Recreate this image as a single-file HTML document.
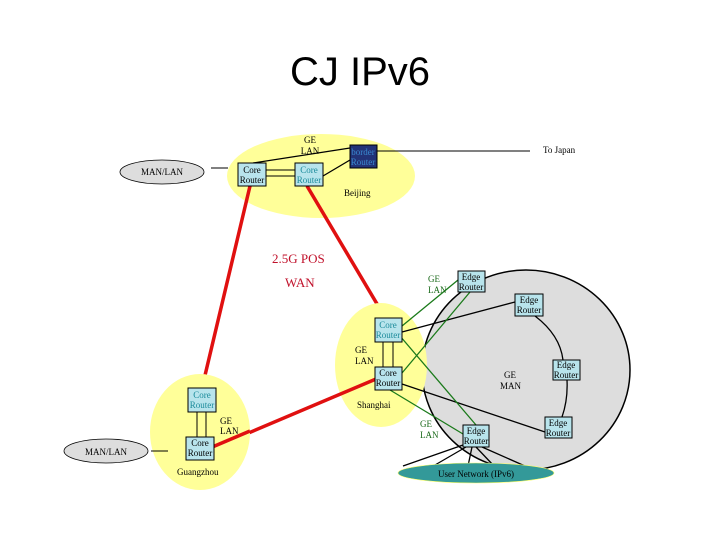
<!DOCTYPE html>
<html><head><meta charset="utf-8"><style>
body{margin:0;background:#fff}
svg text{font-family:"Liberation Serif",serif;font-size:9px}
</style></head><body>
<svg width="720" height="540" viewBox="0 0 720 540" xmlns="http://www.w3.org/2000/svg">
<text x="360" y="85" text-anchor="middle" style="font-family:'Liberation Sans',sans-serif;font-size:40px">CJ IPv6</text>
<!-- Beijing -->
<ellipse cx="321" cy="176" rx="94" ry="42" fill="#ffff99"/>
<ellipse cx="162" cy="172" rx="42" ry="12" fill="#ddd" stroke="#000" stroke-width="0.8"/>
<text x="162" y="175" text-anchor="middle">MAN/LAN</text>
<line x1="211" y1="168" x2="228" y2="168" stroke="#000"/>
<line x1="253" y1="163" x2="350" y2="148" stroke="#000" stroke-width="1.3"/>
<line x1="266" y1="170" x2="295" y2="170" stroke="#000"/>
<line x1="266" y1="176" x2="295" y2="176" stroke="#000"/>
<line x1="323" y1="176" x2="350" y2="160" stroke="#000" stroke-width="1.3"/>
<line x1="377" y1="151" x2="530" y2="151" stroke="#000"/>
<text x="543" y="153">To Japan</text>
<text x="310" y="143" text-anchor="middle">GE</text>
<text x="310" y="154" text-anchor="middle">LAN</text>
<text x="344" y="196">Beijing</text>
<!-- red WAN -->
<line x1="250" y1="186" x2="202" y2="388" stroke="#e01010" stroke-width="3.5"/>
<line x1="307" y1="186" x2="386" y2="319" stroke="#e01010" stroke-width="3.5"/>
<text x="272" y="263" fill="#c0102a" style="font-size:13px">2.5G POS</text>
<text x="285" y="287" fill="#c0102a" style="font-size:13px">WAN</text>
<!-- GE MAN -->
<ellipse cx="526" cy="370" rx="104" ry="100" fill="#ddd" stroke="#000" stroke-width="1.5"/>
<ellipse cx="381" cy="365" rx="46" ry="62" fill="#ffff99"/>
<g stroke="#000" stroke-width="1.3" fill="none">
<line x1="402" y1="332" x2="515" y2="302"/>
<line x1="402" y1="384" x2="545" y2="432"/>
<path d="M535 316 Q560 335 563 360"/>
<path d="M567 380 Q568 400 562 417"/>
<line x1="466" y1="447" x2="435" y2="465"/>
<line x1="472" y1="447" x2="468" y2="466"/>
<line x1="476" y1="447" x2="494" y2="466"/>
<line x1="482" y1="447" x2="525" y2="466"/>
<line x1="463" y1="445" x2="403" y2="466"/>
</g>
<ellipse cx="476" cy="473" rx="78" ry="10" fill="#339999" stroke="#ffff66" stroke-width="0.6"/>
<text x="476" y="477" text-anchor="middle">User Network (IPv6)</text>
<line x1="213" y1="448" x2="376" y2="379" stroke="#e01010" stroke-width="3.5"/>
<g stroke="#1a7a1a" stroke-width="1.3">
<line x1="402" y1="326" x2="458" y2="280"/>
<line x1="402" y1="373" x2="470" y2="292"/>
<line x1="400" y1="336" x2="476" y2="425"/>
<line x1="390" y1="390" x2="463" y2="434"/>
</g>
<line x1="383" y1="342" x2="383" y2="367" stroke="#000"/>
<line x1="393" y1="342" x2="393" y2="367" stroke="#000"/>
<text x="428" y="282" fill="#1a6a1a">GE</text>
<text x="428" y="293" fill="#1a6a1a">LAN</text>
<text x="420" y="427" fill="#1a6a1a">GE</text>
<text x="420" y="438" fill="#1a6a1a">LAN</text>
<text x="355" y="353">GE</text>
<text x="355" y="364">LAN</text>
<text x="504" y="378">GE</text>
<text x="500" y="389">MAN</text>
<text x="357" y="408">Shanghai</text>
<!-- Guangzhou -->
<ellipse cx="200" cy="432" rx="50" ry="58" fill="#ffff99"/>
<ellipse cx="106" cy="451" rx="42" ry="12" fill="#ddd" stroke="#000" stroke-width="0.8"/>
<text x="106" y="455" text-anchor="middle">MAN/LAN</text>
<line x1="151" y1="451" x2="168" y2="451" stroke="#000"/>
<line x1="197" y1="412" x2="197" y2="437" stroke="#000"/>
<line x1="206" y1="412" x2="206" y2="437" stroke="#000"/>
<text x="220" y="424">GE</text>
<text x="220" y="434">LAN</text>
<text x="177" y="475">Guangzhou</text>
<line x1="210" y1="448" x2="250" y2="431" stroke="#e01010" stroke-width="3.5"/>
<!-- boxes -->
<g stroke="#000" stroke-width="1" fill="#b8e4ec">
<rect x="238" y="163" width="28" height="23"/>
<rect x="295" y="163" width="28" height="23"/>
<rect x="350" y="145" width="27" height="23" fill="#223377"/>
<rect x="375" y="318" width="27" height="24"/>
<rect x="375" y="367" width="27" height="23"/>
<rect x="458" y="271" width="27" height="21"/>
<rect x="515" y="294" width="28" height="22"/>
<rect x="553" y="360" width="27" height="20"/>
<rect x="545" y="417" width="27" height="21"/>
<rect x="463" y="425" width="26" height="22"/>
<rect x="188" y="388" width="28" height="24"/>
<rect x="186" y="437" width="28" height="23"/>
</g>
<g text-anchor="middle">
<text x="252" y="173">Core</text><text x="252" y="183">Router</text>
<text x="309" y="173" fill="#1a8a9a">Core</text><text x="309" y="183" fill="#1a8a9a">Router</text>
<text x="363" y="155" fill="#3a8ad0">border</text><text x="363" y="165" fill="#3a8ad0">Router</text>
<text x="388" y="328" fill="#1a8a9a">Core</text><text x="388" y="338" fill="#1a8a9a">Router</text>
<text x="388" y="376">Core</text><text x="388" y="386">Router</text>
<text x="471" y="280">Edge</text><text x="471" y="290">Router</text>
<text x="529" y="303">Edge</text><text x="529" y="313">Router</text>
<text x="566" y="368">Edge</text><text x="566" y="378">Router</text>
<text x="558" y="426">Edge</text><text x="558" y="436">Router</text>
<text x="476" y="434">Edge</text><text x="476" y="444">Router</text>
<text x="202" y="398" fill="#1a8a9a">Core</text><text x="202" y="408" fill="#1a8a9a">Router</text>
<text x="200" y="446">Core</text><text x="200" y="456">Router</text>
</g>
</svg>
</body></html>
